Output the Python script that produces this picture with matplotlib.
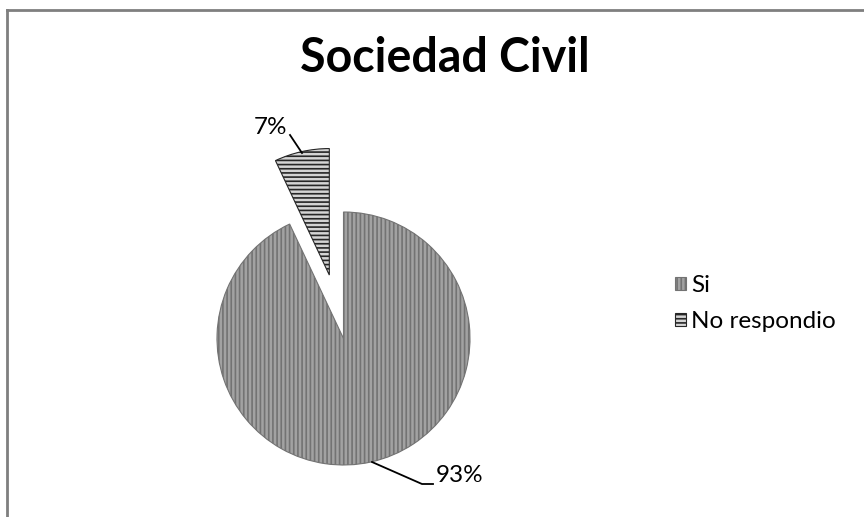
import matplotlib
matplotlib.use("Agg")
import matplotlib.pyplot as plt
from matplotlib.lines import Line2D

plt.rcParams['font.family'] = ['Lato', 'DejaVu Sans']
plt.rcParams['hatch.linewidth'] = 1.2

# datos
categorias = ['Si', 'No respondio']
porcentajes = [93, 7]
titulo = 'Sociedad Civil'

W, H = 864, 517
fig = plt.figure(figsize=(W / 100, H / 100), dpi=100)
ax = fig.add_axes([0, 0, 1, 1])

# marco (solo borde superior e izquierdo visibles)
ax.add_line(Line2D([7, 7], [0, H - 10], color='#7f7f7f', lw=2))
ax.add_line(Line2D([7, W], [H - 10, H - 10], color='#7f7f7f', lw=2))

# explode en unidades de datos (pixeles)
wedges, _ = ax.pie(porcentajes, labels=None, startangle=90, counterclock=False,
                   center=(343.5, H - 338.5), radius=126.5, explode=[0, 65],
                   frame=True)
ax.set_xlim(0, W)
ax.set_ylim(0, H)
ax.axis('off')

estilos = [
    dict(face='#a2a2a2', hatch='||||', edge='#737373'),
    dict(face='#d4d4d4', hatch='----', edge='#262626'),
]
for w, st in zip(wedges, estilos):
    w.set_facecolor(st['face'])
    w.set_hatch(st['hatch'])
    w.set_edgecolor(st['edge'])
    w.set_linewidth(0.8)

# etiquetas de porcentaje con lineas guia
ax.add_line(Line2D([302, 290], [H - 153, H - 135], color='black', lw=1.3))
ax.text(287, H - 128, f'{porcentajes[1]}%', ha='right', va='center', fontsize=17.5)

ax.add_line(Line2D([372, 422, 433], [H - 462, H - 484, H - 484], color='black', lw=1.3))
ax.text(436, H - 476, f'{porcentajes[0]}%', ha='left', va='center', fontsize=17.5)

fig.text(444.5 / W, 1 - 58 / H, titulo, ha='center', va='center',
         fontsize=33.5, fontweight='bold')

leg = ax.legend(wedges, categorias, loc='center left', frameon=False,
                bbox_to_anchor=(675 / W, 1 - 303.5 / H), bbox_transform=fig.transFigure,
                fontsize=17.5, handlelength=0.45, handleheight=0.45,
                handletextpad=0.2, labelspacing=0.6, borderpad=0, borderaxespad=0)

fig.savefig('out.png', dpi=100)
